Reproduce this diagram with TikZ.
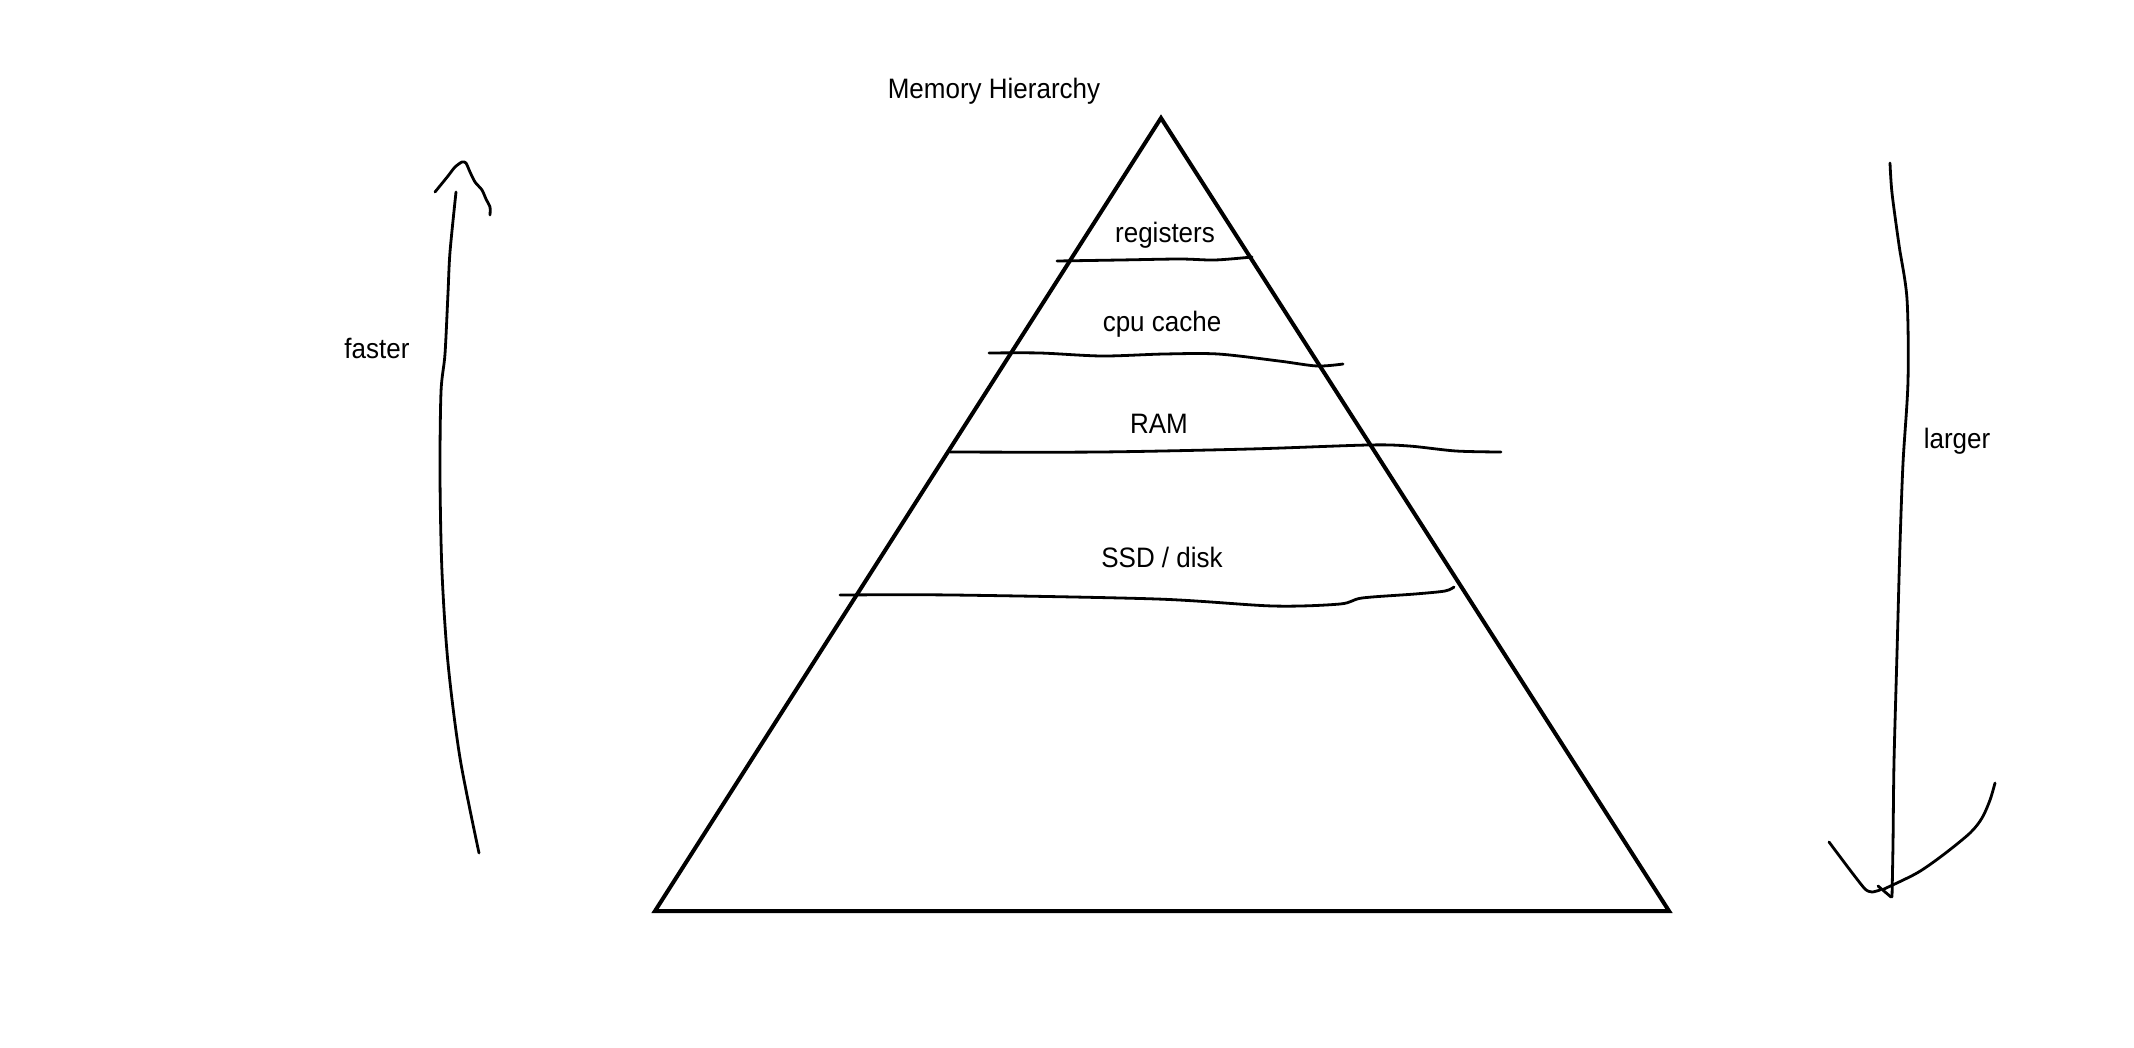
\documentclass[tikz,border=0pt]{standalone}
\usepackage{fontspec}
\setmainfont{Liberation Sans}
\begin{document}
\begin{tikzpicture}[x=1pt,y=-1pt,
  lbl/.style={font=\fontsize{26}{31}\selectfont, inner sep=0pt, anchor=center, yscale=1.08},
  tri/.style={line width=4pt, line join=miter},
  pen/.style={line width=2.8pt, line cap=round, line join=round}]
\useasboundingbox[fill=white] (0,0) rectangle (2134,1047);
% pyramid
\coordinate (apex) at (1161,118);
\coordinate (bl) at (655,911);
\coordinate (br) at (1669,911);
\draw[tri] (apex) -- (bl) -- (br) -- cycle;
% labels
\node[lbl] (title) at (994,91) {Memory Hierarchy};
\node[lbl] (reg) at (1165,235) {registers};
\node[lbl] (cache) at (1162,324) {cpu cache};
\node[lbl] (ram) at (1159,424) {RAM};
\node[lbl] (ssd) at (1162,557) {SSD / disk};
\node[lbl] (faster) at (377,348) {faster};
\node[lbl] (larger) at (1957,441) {larger};
% layer lines
\draw[pen] plot[smooth, tension=0.5] coordinates {(1057,261) (1120,260) (1180,259) (1215,260) (1252,257)};
\draw[pen] plot[smooth, tension=0.5] coordinates {(989,353) (1040,353) (1102,356) (1164,354) (1218,354) (1279,361) (1317,366) (1343,364)};
\draw[pen] plot[smooth, tension=0.5] coordinates {(950,452) (1100,452) (1250,449) (1368,445) (1409,446) (1456,451) (1501,452)};
\draw[pen] plot[smooth, tension=0.5] coordinates {(840,595) (953,595) (1157,599) (1273,606) (1340,604) (1362,598) (1415,594) (1445,591) (1454,587)};
% faster arrow
\draw[pen] plot[smooth, tension=0.5] coordinates {(479,853) (460,758) (448,663) (442,572) (440,476) (441,392) (445,354) (448,293) (450,252) (456,192)};
\draw[pen] plot[smooth, tension=0.4] coordinates {(435,192) (448,176) (455,167) (462,162) (466,163) (470,172) (475,182) (482,190) (486,199) (490,207) (490,215)};
% larger arrow
\draw[pen] plot[smooth, tension=0.5] coordinates {(1890,163) (1892,193) (1899,245) (1907,299) (1908,381) (1903,463) (1900,544) (1897,653) (1894,762) (1893,844) (1892,897)};
\draw[pen] plot[smooth, tension=0.4] coordinates {(1829,842) (1850,870) (1865,889) (1872,892) (1880,890)};
\draw[pen] (1878,886) -- (1891,897);
\draw[pen] plot[smooth, tension=0.5] coordinates {(1884,889) (1917,873) (1943,855) (1970,833) (1982,818) (1990,800) (1995,783)};
\end{tikzpicture}
\end{document}
